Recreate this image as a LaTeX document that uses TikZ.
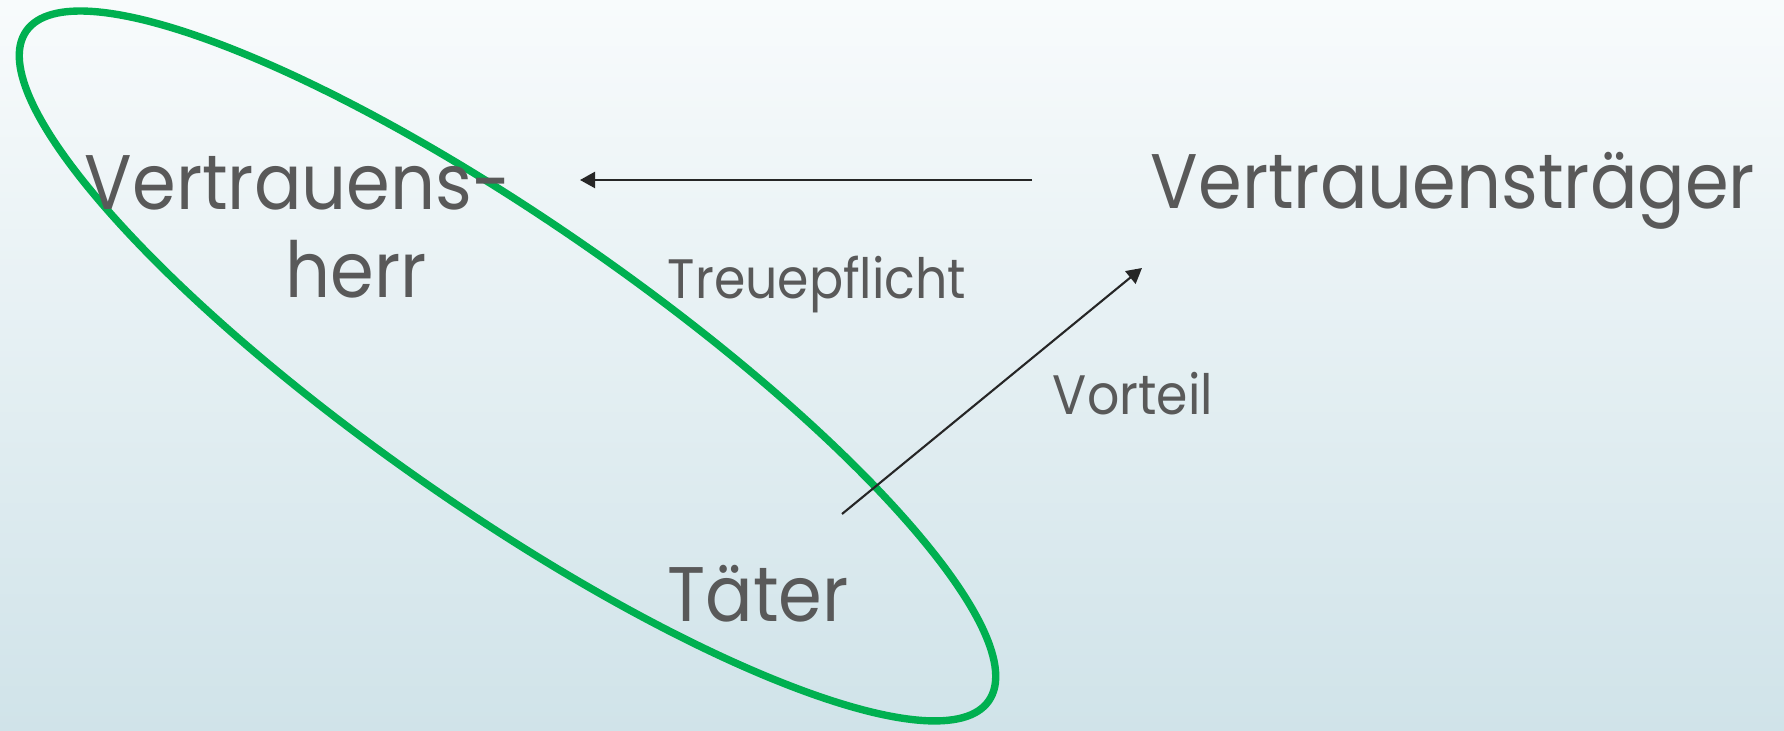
\documentclass[tikz,border=0pt]{standalone}
\usepackage{fontspec}
\setmainfont{Poppins}[FakeStretch=0.91]
\usetikzlibrary{arrows.meta}
\definecolor{txt}{HTML}{595959}
\definecolor{ring}{HTML}{00B050}
\definecolor{bgtop}{HTML}{F8FBFC}
\definecolor{bgbot}{HTML}{D0E3E9}
\definecolor{arr}{HTML}{262626}
\tikzset{
  bigtext/.style={text=txt, font=\fontsize{22}{26}\selectfont, inner sep=0pt, anchor=base},
  smalltext/.style={text=txt, font=\fontsize{15.8}{18}\selectfont, inner sep=0pt, anchor=base},
  conn/.style={draw=arr, line width=0.6pt, -{Triangle[length=4.3pt,width=4.6pt]}},
  ringline/.style={draw=ring, line width=2.1pt}
}
\begin{document}
\begin{tikzpicture}[x=0.01cm, y=-0.01cm]
  \shade[top color=bgtop, bottom color=bgbot] (0,0) rectangle (1784,731);
  \useasboundingbox (0,0) rectangle (1784,731);
  % ellipse
  \coordinate (ec) at (507.5,366);
  \draw[ringline, rotate around={-34.83:(ec)}] (ec) ellipse [x radius=5.86cm, y radius=1.43cm];
  % texts
  \node[bigtext] (vh1) at (298,210) {Vertrauens-};
  \node[bigtext] (vh2) at (356,298) {herr};
  \node[bigtext] (vt) at (1453,209) {Vertrauensträger};
  \node[bigtext] (tt) at (758,622) {Täter};
  \node[smalltext] (tp) at (817,299) {Treuepflicht};
  \node[smalltext] (vo) at (1133,415) {Vorteil};
  % connectors
  \coordinate (a1s) at (1032,180);
  \coordinate (a1e) at (580,180);
  \coordinate (a2s) at (842,514);
  \coordinate (a2e) at (1142,268);
  \draw[conn] (a1s) -- (a1e);
  \draw[conn] (a2s) -- (a2e);
\end{tikzpicture}
\end{document}
